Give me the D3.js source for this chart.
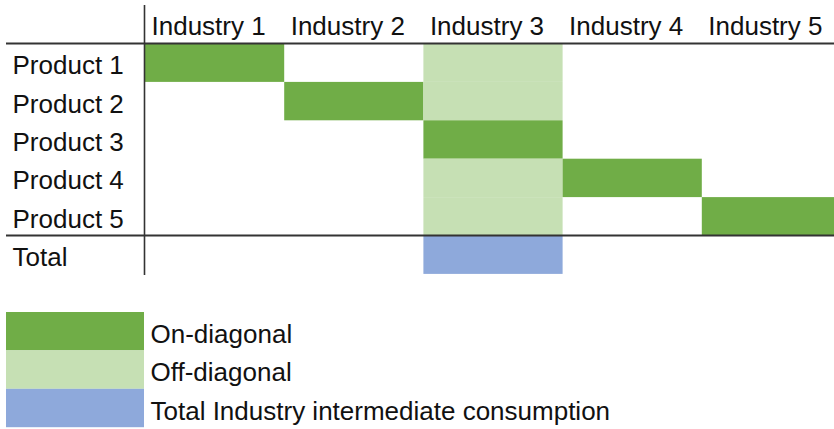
<!DOCTYPE html>
<html>
<head>
<meta charset="utf-8">
<script src="https://cdn.jsdelivr.net/npm/d3@7"></script>
<style>
  html, body { margin: 0; padding: 0; background: #fff; }
  svg { display: block; }
  text { font-family: "Liberation Sans", Arial, Helvetica, sans-serif; fill: #111; }
</style>
</head>
<body>
<svg id="chart" width="834" height="429"></svg>
<script>
const industries = ["Industry 1", "Industry 2", "Industry 3", "Industry 4", "Industry 5"];
const rowLabels = ["Product 1", "Product 2", "Product 3", "Product 4", "Product 5", "Total"];
// cell type per row (rows = rowLabels, columns = industries)
const cellTypes = [
  ["on",  "",    "off",   "",   ""  ],
  ["",    "on",  "off",   "",   ""  ],
  ["",    "",    "on",    "",   ""  ],
  ["",    "",    "off",   "on", ""  ],
  ["",    "",    "off",   "",   "on"],
  ["",    "",    "total", "",   ""  ]
];
const legendKeys = ["on", "off", "total"];
const legendLabels = ["On-diagonal", "Off-diagonal", "Total Industry intermediate consumption"];

const colors = { on: "#70AD47", off: "#C6E0B4", total: "#8EA9DB" };
const fontSize = 26;

const svg = d3.select("#chart");
const x = d3.scaleBand().domain(industries).range([145, 145 + 5 * 139.2]).padding(0);
const y = d3.scaleBand().domain(rowLabels).range([43.5, 43.5 + 6 * 38.4]).padding(0);

const cells = [];
cellTypes.forEach((row, i) => row.forEach((t, j) => {
  if (t) cells.push({ row: rowLabels[i], col: industries[j], type: t });
}));

svg.append("g").selectAll("rect").data(cells).join("rect")
  .attr("x", d => x(d.col))
  .attr("y", d => y(d.row))
  .attr("width", x.bandwidth())
  .attr("height", y.bandwidth())
  .attr("fill", d => colors[d.type]);

// header labels
svg.append("g").selectAll("text").data(industries).join("text")
  .attr("x", d => x(d) + 6.5)
  .attr("y", 35)
  .attr("font-size", fontSize)
  .text(d => d);

// row labels
svg.append("g").selectAll("text").data(rowLabels).join("text")
  .attr("x", 12.5)
  .attr("y", d => y(d) + y.bandwidth() / 2 + 11.5)
  .attr("font-size", fontSize)
  .text(d => d);

// grid lines
const lineColor = "#333";
svg.append("line").attr("x1", 6).attr("x2", 834).attr("y1", 43.5).attr("y2", 43.5)
  .attr("stroke", lineColor).attr("stroke-width", 2);
svg.append("line").attr("x1", 6).attr("x2", 834).attr("y1", y("Total")).attr("y2", y("Total"))
  .attr("stroke", lineColor).attr("stroke-width", 2);
svg.append("line").attr("x1", 144.5).attr("x2", 144.5).attr("y1", 5).attr("y2", 275)
  .attr("stroke", lineColor).attr("stroke-width", 1.6);

// legend
const ly = d3.scaleBand().domain(legendKeys).range([312, 312 + 3 * 38.4]).padding(0);
const lg = svg.append("g");
lg.selectAll("rect").data(legendKeys).join("rect")
  .attr("x", 6).attr("y", d => ly(d))
  .attr("width", 138).attr("height", ly.bandwidth())
  .attr("fill", d => colors[d]);
lg.selectAll("text").data(legendKeys).join("text")
  .attr("x", 150.5)
  .attr("y", d => ly(d) + ly.bandwidth() / 2 + 11.5)
  .attr("font-size", fontSize)
  .text((d, i) => legendLabels[i]);
</script>
</body>
</html>
